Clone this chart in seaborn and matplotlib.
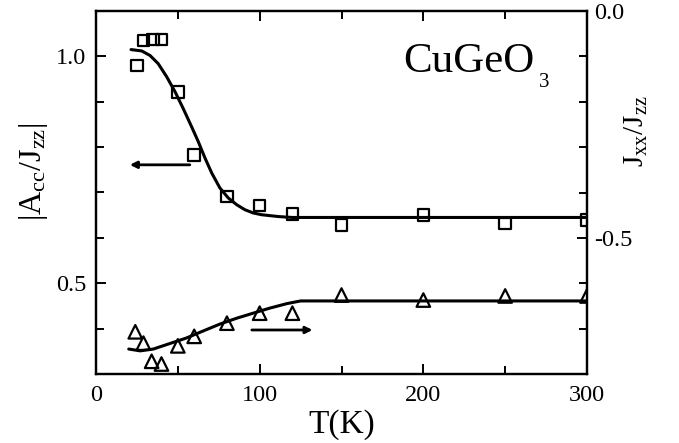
import matplotlib
matplotlib.use("Agg")
import matplotlib.pyplot as plt
import seaborn as sns
import pandas as pd
from matplotlib.ticker import MultipleLocator, FixedLocator

# ---- data ----
sq_T = [25, 29, 35, 40, 50, 60, 80, 100, 120, 150, 200, 250, 300]
sq_A = [0.980, 1.035, 1.037, 1.037, 0.921, 0.783, 0.691, 0.671, 0.653, 0.629, 0.651, 0.632, 0.640]

fitA_T = [21.4, 27.9, 33, 38, 43.2, 48.3, 53.3, 58.4, 62.5, 66.6, 70.7, 75.7, 80.8,
          86, 91, 96, 101.2, 111.4, 120, 200, 300]
fitA_V = [1.015, 1.012, 1.002, 0.984, 0.955, 0.922, 0.885, 0.845, 0.812, 0.776, 0.743,
          0.710, 0.688, 0.673, 0.662, 0.655, 0.651, 0.647, 0.645, 0.645, 0.645]

tr_T = [24, 29, 34, 40, 50, 60, 80, 100, 120, 150, 200, 250, 300]
tr_J = [-0.707, -0.732, -0.772, -0.778, -0.738, -0.717, -0.688, -0.666, -0.666, -0.626, -0.637, -0.628, -0.628]

fitJ_T = [20, 27, 35, 45, 55, 65.6, 75.7, 86, 96, 106, 116.5, 125, 200, 300]
fitJ_V = [-0.745, -0.749, -0.745, -0.733, -0.721, -0.705, -0.690, -0.677, -0.666, -0.655, -0.645, -0.639, -0.639, -0.639]

xticks = [0, 100, 200, 300]
left_ticks = [0.5, 1.0]
right_ticks = [0.0, -0.5]

sns.set_style("ticks")
plt.rcParams['font.family'] = ['Liberation Serif', 'DejaVu Serif']
plt.rcParams['mathtext.fontset'] = 'custom'
plt.rcParams['mathtext.rm'] = 'Liberation Serif'
plt.rcParams['mathtext.it'] = 'Liberation Serif:italic'
for k in ['text.color', 'axes.labelcolor', 'xtick.color', 'ytick.color', 'axes.edgecolor']:
    plt.rcParams[k] = 'black'

fig = plt.figure(figsize=(6.79, 4.43), dpi=100)
ax = fig.add_axes([96/679, 1-374/443, (587-96)/679, (374-11)/443])
ax2 = ax.twinx()

sq_df = pd.DataFrame({"T": sq_T, "v": sq_A})
fa_df = pd.DataFrame({"T": fitA_T, "v": fitA_V})
tr_df = pd.DataFrame({"T": tr_T, "v": tr_J})
fj_df = pd.DataFrame({"T": fitJ_T, "v": fitJ_V})

sns.lineplot(data=fa_df, x="T", y="v", ax=ax, color="black", lw=2.2, sort=False)
sns.scatterplot(data=sq_df, x="T", y="v", ax=ax, marker="s", s=70,
                facecolor="none", edgecolor="black", linewidth=1.6, zorder=3)
sns.lineplot(data=fj_df, x="T", y="v", ax=ax2, color="black", lw=2.2, sort=False)
sns.scatterplot(data=tr_df, x="T", y="v", ax=ax2, marker="^", s=95,
                facecolor="none", edgecolor="black", linewidth=1.6, zorder=3)

ax.set_xlim(0, 300)
ax.set_ylim(0.3, 1.1)
ax2.set_ylim(-0.8, 0.0)

ax.xaxis.set_major_locator(FixedLocator(xticks))
ax.xaxis.set_minor_locator(MultipleLocator(50))
ax.yaxis.set_major_locator(FixedLocator(left_ticks))
ax.yaxis.set_minor_locator(MultipleLocator(0.1))
ax2.yaxis.set_major_locator(FixedLocator(right_ticks))
ax2.yaxis.set_minor_locator(MultipleLocator(0.1))
ax.set_xticklabels([str(t) for t in xticks])
ax.set_yticklabels(["0.5", "1.0"])
ax2.set_yticklabels(["0.0", "-0.5"])

for a in (ax, ax2):
    for s in a.spines.values():
        s.set_linewidth(1.6)
        s.set_color("black")
ax.tick_params(axis="x", which="both", direction="in", top=True, bottom=True, width=1.4,
               labelsize=17.5, pad=8)
ax.tick_params(axis="x", which="major", length=7)
ax.tick_params(axis="x", which="minor", length=6)
ax.tick_params(axis="y", which="both", direction="in", width=1.4, labelsize=17.5, pad=7)
ax.tick_params(axis="y", which="major", length=7)
ax.tick_params(axis="y", which="minor", length=6)
ax2.tick_params(axis="y", which="both", direction="in", width=1.4, labelsize=17.5, pad=5)
ax2.tick_params(axis="y", which="major", length=7)
ax2.tick_params(axis="y", which="minor", length=6)

ax.set_xlabel("T(K)", fontsize=24, labelpad=2)
ax.set_ylabel(r"$|\mathrm{A}_{\mathrm{cc}}/\mathrm{J}_{\mathrm{zz}}|$", fontsize=23)
ax.yaxis.set_label_coords(-0.094, 0.556)
ax2.set_ylabel(r"$\mathrm{J}_{\mathrm{xx}}/\mathrm{J}_{\mathrm{zz}}$", fontsize=21, rotation=90)
ax2.yaxis.set_label_coords(1.073, 0.669)

ax.text(0.625, 0.832, "CuGeO", transform=ax.transAxes, fontsize=31, va="baseline", ha="left")
ax.text(0.902, 0.791, "3", transform=ax.transAxes, fontsize=15, va="baseline", ha="left")

# arrows
ax.annotate("", xy=(19, 0.761), xytext=(59, 0.761),
            arrowprops=dict(arrowstyle="-|>", color="black", lw=2, mutation_scale=10))
ax2.annotate("", xy=(134, -0.703), xytext=(93.5, -0.703),
             arrowprops=dict(arrowstyle="-|>", color="black", lw=2, mutation_scale=10))

fig.savefig("out.png", dpi=100)
